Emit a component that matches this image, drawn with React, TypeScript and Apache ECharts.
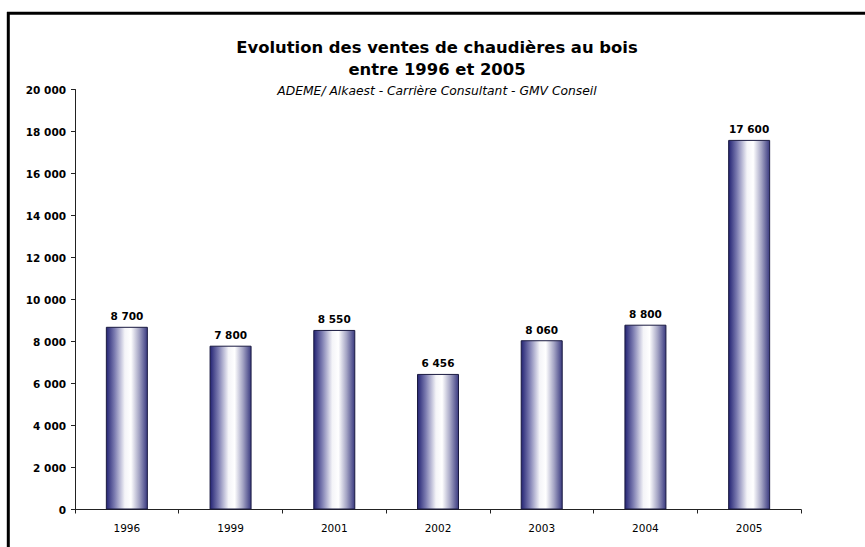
import React, { useEffect, useRef } from "react";
import * as echarts from "echarts";

const categories = ["1996", "1999", "2001", "2002", "2003", "2004", "2005"];
const sales = [8700, 7800, 8550, 6456, 8060, 8800, 17600];
const yTicks = { min: 0, max: 20000, interval: 2000 };
const titleLines = ["Evolution des ventes de chaudières au bois", "entre 1996 et 2005"];
const subtitleText = "ADEME/ Alkaest - Carrière Consultant - GMV Conseil";

const FONT = "'DejaVu Sans', Verdana, sans-serif";
const fmt = (v: number) => String(v).replace(/\B(?=(\d{3})+(?!\d))/g, " ");

export default function App() {
  const ref = useRef<HTMLDivElement>(null);
  useEffect(() => {
    if (!ref.current) return;
    const chart = echarts.init(ref.current, null, { renderer: "svg" });
    const barGradient = new echarts.graphic.LinearGradient(0, 0, 1, 0, [
      { offset: 0, color: "#232373" },
      { offset: 0.2, color: "#7b7bb0" },
      { offset: 0.45, color: "#f4f4f8" },
      { offset: 0.6, color: "#ffffff" },
      { offset: 0.8, color: "#a4a4c4" },
      { offset: 1, color: "#3a3a80" },
    ]);
    const textEl = (text: string, y: number, size: number, weight: string, style: string) => ({
      type: "text",
      x: 437,
      y,
      style: {
        text,
        fill: "#000",
        fontFamily: FONT,
        fontSize: size,
        fontWeight: weight,
        fontStyle: style,
        align: "center",
        verticalAlign: "middle",
        textAlign: "center",
        textVerticalAlign: "middle",
      },
    });
    chart.setOption({
      animation: false,
      backgroundColor: "#ffffff",
      textStyle: { fontFamily: FONT },
      graphic: [
        { type: "line", shape: { x1: 7, y1: 13.3, x2: 865, y2: 13.3 }, style: { stroke: "#000", lineWidth: 3 } },
        { type: "line", shape: { x1: 8.3, y1: 12, x2: 8.3, y2: 547 }, style: { stroke: "#000", lineWidth: 3 } },
        textEl(titleLines[0], 47.5, 16.4, "bold", "normal"),
        textEl(titleLines[1], 69.5, 16.4, "bold", "normal"),
        textEl(subtitleText, 90.5, 12.3, "normal", "italic"),
      ],
      grid: { left: 75, right: 64, top: 89.5, bottom: 37.5, containLabel: false },
      xAxis: {
        type: "category",
        data: categories,
        axisLine: { lineStyle: { color: "#222", width: 1 } },
        axisTick: { show: true, alignWithLabel: false, length: 4, lineStyle: { color: "#222" } },
        axisLabel: { margin: 13, fontFamily: FONT, fontSize: 10.5, color: "#000" },
      },
      yAxis: {
        type: "value",
        min: yTicks.min,
        max: yTicks.max,
        interval: yTicks.interval,
        axisLine: { show: true, lineStyle: { color: "#222", width: 1 } },
        axisTick: { show: true, length: 4, lineStyle: { color: "#222" } },
        splitLine: { show: false },
        axisLabel: {
          margin: 9,
          fontFamily: FONT,
          fontSize: 10.5,
          fontWeight: "bold",
          color: "#000",
          formatter: (v: number) => fmt(v),
        },
      },
      series: [
        {
          type: "bar",
          data: sales,
          barWidth: 42,
          itemStyle: { color: barGradient, borderColor: "#1a1a40", borderWidth: 1 },
          label: {
            show: true,
            position: "top",
            distance: 5,
            fontFamily: FONT,
            fontSize: 10.5,
            fontWeight: "bold",
            color: "#000",
            formatter: (p: any) => fmt(p.value),
          },
        },
      ],
    });
    return () => chart.dispose();
  }, []);
  return (
    <div style={{ position: "fixed", left: 0, top: 0, width: 865, height: 547, background: "#fff" }}>
      <div ref={ref} style={{ width: 865, height: 547 }} />
    </div>
  );
}
